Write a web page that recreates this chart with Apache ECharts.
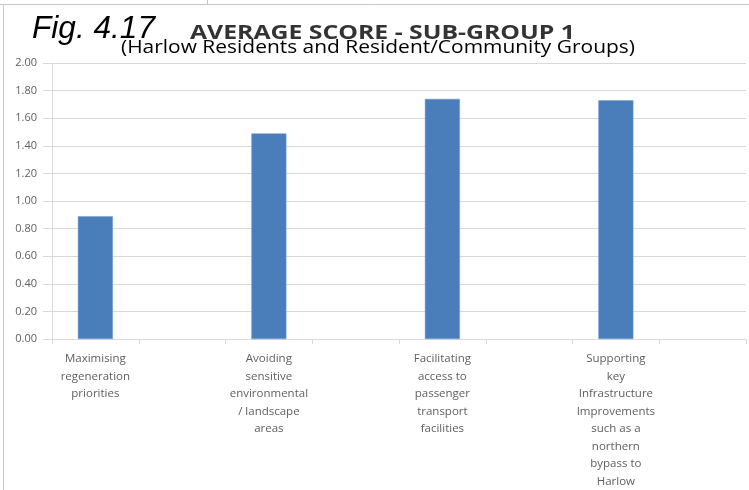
<!DOCTYPE html>
<html>
<head>
<meta charset="utf-8">
<script src="https://cdn.jsdelivr.net/npm/echarts@6/dist/echarts.min.js"></script>
<style>
html,body{margin:0;padding:0;background:#fff;}
#chart{width:749px;height:490px;}
</style>
</head>
<body>
<div id="chart"></div>
<script>
// ---- data ----
var figLabel = 'Fig. 4.17';
var titleText = 'AVERAGE SCORE - SUB-GROUP 1';
var subtitleText = '(Harlow Residents and Resident/Community Groups)';
var categories = [
  'Maximising\nregeneration\npriorities',
  'Avoiding\nsensitive\nenvironmental\n/ landscape\nareas',
  'Facilitating\naccess to\npassenger\ntransport\nfacilities',
  'Supporting\nkey\nInfrastructure\nImprovements\nsuch as a\nnorthern\nbypass to\nHarlow'
];
var scores = [0.89, 1.49, 1.74, 1.73];
var yTicks = [0, 0.2, 0.4, 0.6, 0.8, 1.0, 1.2, 1.4, 1.6, 1.8, 2.0];

// chart has an empty category slot after each labelled one
var axisCats = [], axisVals = [];
for (var i = 0; i < categories.length; i++) {
  axisCats.push(categories[i]); axisVals.push(scores[i]);
  axisCats.push(''); axisVals.push(null);
}

function textWidth(text, font) {
  var c = document.createElement('canvas').getContext('2d');
  c.font = font;
  return c.measureText(text).width;
}
var figFont = 'italic normal 32px "Liberation Sans"';
var titleFont = 'bold 19px "Open Sans"';
var subFont = 'normal 18px "Open Sans"';
var figScale = 123 / textWidth(figLabel, figFont);
var titleScale = 385 / textWidth(titleText, titleFont);
var subScale = 514 / textWidth(subtitleText, subFont);

var chart = echarts.init(document.getElementById('chart'), null, {renderer: 'canvas'});
var gridCol = '#d9d9d9';
chart.setOption({
  animation: false,
  backgroundColor: '#ffffff',
  grid: {left: 52, right: 3, top: 63, bottom: 150.5, containLabel: false},
  xAxis: {
    type: 'category',
    data: axisCats,
    boundaryGap: true,
    axisLine: {lineStyle: {color: gridCol, width: 1}},
    axisTick: {show: true, length: 5, lineStyle: {color: gridCol}, interval: 0},
    axisLabel: {
      interval: 0, margin: 11, color: '#606060',
      fontFamily: 'Open Sans', fontSize: 11.5, lineHeight: 17.5, align: 'center'
    }
  },
  yAxis: {
    type: 'value',
    min: yTicks[0], max: yTicks[yTicks.length - 1], interval: 0.2,
    axisLine: {show: true, lineStyle: {color: gridCol}},
    axisTick: {show: true, length: 9, lineStyle: {color: gridCol}},
    splitLine: {show: true, lineStyle: {color: gridCol, width: 1}},
    axisLabel: {
      margin: 15, color: '#606060', fontFamily: 'Open Sans', fontSize: 11,
      formatter: function (v) { return v.toFixed(2); }
    }
  },
  series: [{
    type: 'bar',
    data: axisVals,
    barWidth: 35,
    itemStyle: {color: '#4a7ebb', borderColor: '#6f9bd0', borderWidth: 0.5}
  }],
  graphic: [
    {type: 'line', shape: {x1: 0, y1: 4.5, x2: 749, y2: 4.5}, style: {stroke: '#c8c8c8', lineWidth: 1}},
    {type: 'line', shape: {x1: 207.5, y1: 0, x2: 207.5, y2: 4.5}, style: {stroke: '#c8c8c8', lineWidth: 1}},
    {type: 'line', shape: {x1: 3.5, y1: 4.5, x2: 3.5, y2: 490}, style: {stroke: '#c8c8c8', lineWidth: 1}},
    {type: 'text', x: 32, y: 13, scaleX: figScale, style: {text: figLabel, font: figFont, fill: '#000', verticalAlign: 'top'}},
    {type: 'text', x: 190, y: 24, scaleX: titleScale, style: {text: titleText, font: titleFont, fill: '#333333', verticalAlign: 'top'}},
    {type: 'text', x: 121, y: 38.5, scaleX: subScale, style: {text: subtitleText, font: subFont, fill: '#000', verticalAlign: 'top'}}
  ]
});
</script>
</body>
</html>
